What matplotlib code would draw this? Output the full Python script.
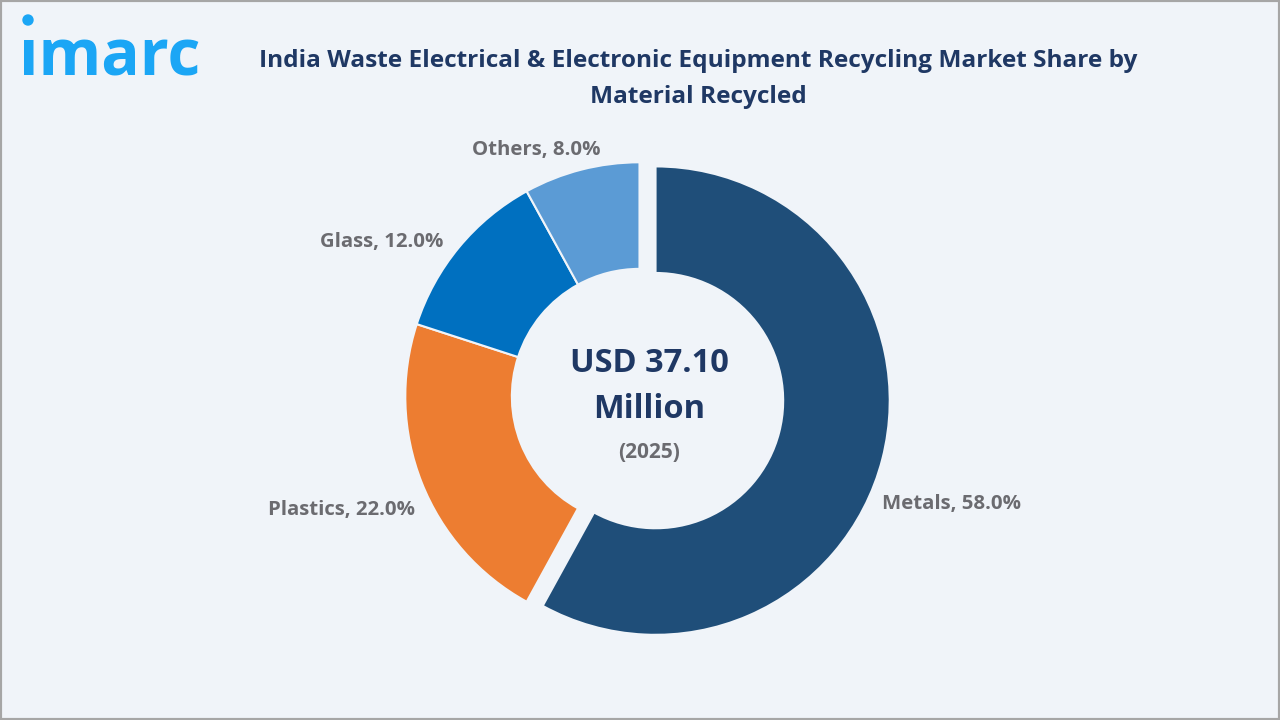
# India WEEE recycling share donut
import matplotlib
matplotlib.use('Agg')
import matplotlib.pyplot as plt
from matplotlib.patches import Circle, Rectangle
from matplotlib.transforms import IdentityTransform

materials = ['Metals', 'Plastics', 'Glass', 'Others']
shares = [58.0, 22.0, 12.0, 8.0]
explode = [0.0707, 0, 0, 0]
colors = ['#1F4E79', '#ED7D31', '#0070C0', '#5B9BD5']

W, H = 1280, 720
BG = '#F0F4F9'
NAVY = '#1F3864'
GRAY = '#6B6B70'
FONT = ['Open Sans', 'DejaVu Sans']

fig = plt.figure(figsize=(W / 100, H / 100), dpi=100, facecolor=BG)

# axes set up so the pie centre lands where it does in the picture
cx, cy, r = 639.5, 396.5, 234.2
half = r * 1.25
ax = fig.add_axes([(cx - half) / W, (H - cy - half) / H, 2 * half / W, 2 * half / H])
ax.pie(shares, explode=explode, colors=colors, startangle=90, counterclock=False,
       radius=1, wedgeprops=dict(width=0.455, edgecolor=BG, linewidth=1.5))
ax.set_xlim(-1.25, 1.25)
ax.set_ylim(-1.25, 1.25)


def txt(x, y, s, size, color, weight='bold', ha='center', va='center'):
    fig.text(x / W, 1 - y / H, s, fontsize=size, color=color, fontweight=weight,
             ha=ha, va=va, family=FONT)


# title
txt(698, 61, 'India Waste Electrical & Electronic Equipment Recycling Market Share by', 17.55, NAVY)
txt(698, 97, 'Material Recycled', 17.55, NAVY)

# centre text
txt(649, 364, 'USD 37.10', 23.5, NAVY)
txt(649, 410, 'Million', 23.5, NAVY)
txt(649, 452, '(2025)', 15, GRAY)

# slice labels
label_pos = [(952, 503.5), (342, 510), (382, 242), (536, 150)]
for name, val, (x, y) in zip(materials, shares, label_pos):
    txt(x, y, f'{name}, {val:.1f}%', 14.7, GRAY)

# logo
logo_blue = '#1BA6F5'
txt(110, 75, '\u0131marc', 46, logo_blue, va='baseline')
fig.add_artist(Circle((28, H - 20), 5, color=logo_blue, transform=IdentityTransform()))

# thin frame around the edge
fig.add_artist(Rectangle((0, 0), 1, 1, transform=fig.transFigure, fill=False,
                         edgecolor='#A6A6A6', linewidth=3))

fig.savefig('out.png', dpi=100, facecolor=BG)
